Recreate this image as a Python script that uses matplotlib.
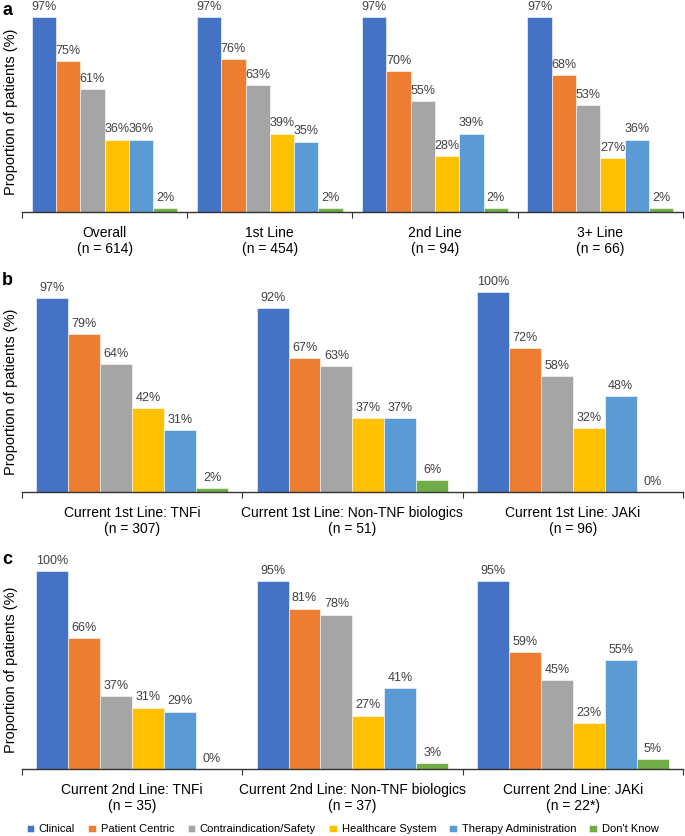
import matplotlib.pyplot as plt
import numpy as np

plt.rcParams['font.family'] = ['Liberation Sans', 'DejaVu Sans']

categories = ['Clinical', 'Patient Centric', 'Contraindication/Safety',
              'Healthcare System', 'Therapy Administration', "Don't Know"]
colors = ['#4472C4', '#ED7D31', '#A5A5A5', '#FFC000', '#5B9BD5', '#70AD47']

groups_a = ['Overall\n(n = 614)', '1st Line\n(n = 454)', '2nd Line\n(n = 94)', '3+ Line\n(n = 66)']
values_a = [
    [97, 75, 61, 36, 36, 2],
    [97, 76, 63, 39, 35, 2],
    [97, 70, 55, 28, 39, 2],
    [97, 68, 53, 27, 36, 2],
]

groups_b = ['Current 1st Line: TNFi\n(n = 307)',
            'Current 1st Line: Non-TNF biologics\n(n = 51)',
            'Current 1st Line: JAKi\n(n = 96)']
values_b = [
    [97, 79, 64, 42, 31, 2],
    [92, 67, 63, 37, 37, 6],
    [100, 72, 58, 32, 48, 0],
]

groups_c = ['Current 2nd Line: TNFi\n(n = 35)',
            'Current 2nd Line: Non-TNF biologics\n(n = 37)',
            'Current 2nd Line: JAKi\n(n = 22*)']
values_c = [
    [100, 66, 37, 31, 29, 0],
    [95, 81, 78, 27, 41, 3],
    [95, 59, 45, 23, 55, 5],
]

fig = plt.figure(figsize=(6.85, 8.36), dpi=100)

panels = [
    ('a', groups_a, values_a, [0.032, 0.7464, 0.965, 0.2406]),
    ('b', groups_b, values_b, [0.032, 0.4115, 0.965, 0.2392]),
    ('c', groups_c, values_c, [0.032, 0.0801, 0.965, 0.2369]),
]

handles = None
for letter, groups, values, pos in panels:
    ax = fig.add_axes(pos)
    ng = len(groups)
    vals = np.array(values)
    width = 0.147 if ng == 4 else 0.145
    offsets = (np.arange(6) - 2.5) * width
    bars_all = []
    for k in range(6):
        x = np.arange(ng) + 0.5 + offsets[k]
        bars = ax.bar(x, vals[:, k], width=width, color=colors[k],
                      edgecolor='white', linewidth=0.4, label=categories[k])
        bars_all.append(bars)
        for xi, v in zip(x, vals[:, k]):
            ax.annotate(f'{v}%', (xi, v), xytext=(0, 3), textcoords='offset points',
                        ha='center', va='bottom', fontsize=9, color='#404040')
    handles = bars_all
    ax.set_xlim(0, ng)
    ax.set_ylim(0, 100)
    ax.set_xticks(np.arange(ng + 1))
    ax.set_xticklabels([])
    ax.set_xticks(np.arange(ng) + 0.5, minor=True)
    ax.set_xticklabels(groups, minor=True, fontsize=10)
    ax.tick_params(axis='x', which='major', length=4, width=0.8, color='#333333')
    ax.tick_params(axis='x', which='minor', length=0, pad=10)
    ax.set_yticks([])
    for s in ['top', 'right', 'left']:
        ax.spines[s].set_visible(False)
    ax.spines['bottom'].set_linewidth(1.0)
    ax.spines['bottom'].set_color('#333333')
    ax.set_ylabel('Proportion of patients (%)', fontsize=10.5, labelpad=3)
    ax.text(-0.03, 1.0 if letter == 'a' else 1.06, letter, transform=ax.transAxes,
            fontsize=13, fontweight='bold', ha='left', va='center')

fig.legend(handles, categories, loc='lower center', ncol=6, fontsize=8,
           frameon=False, handlelength=0.7, handleheight=0.7, handletextpad=0.4,
           columnspacing=1.2, bbox_to_anchor=(0.5, -0.01))

fig.savefig('out.png', dpi=100)
